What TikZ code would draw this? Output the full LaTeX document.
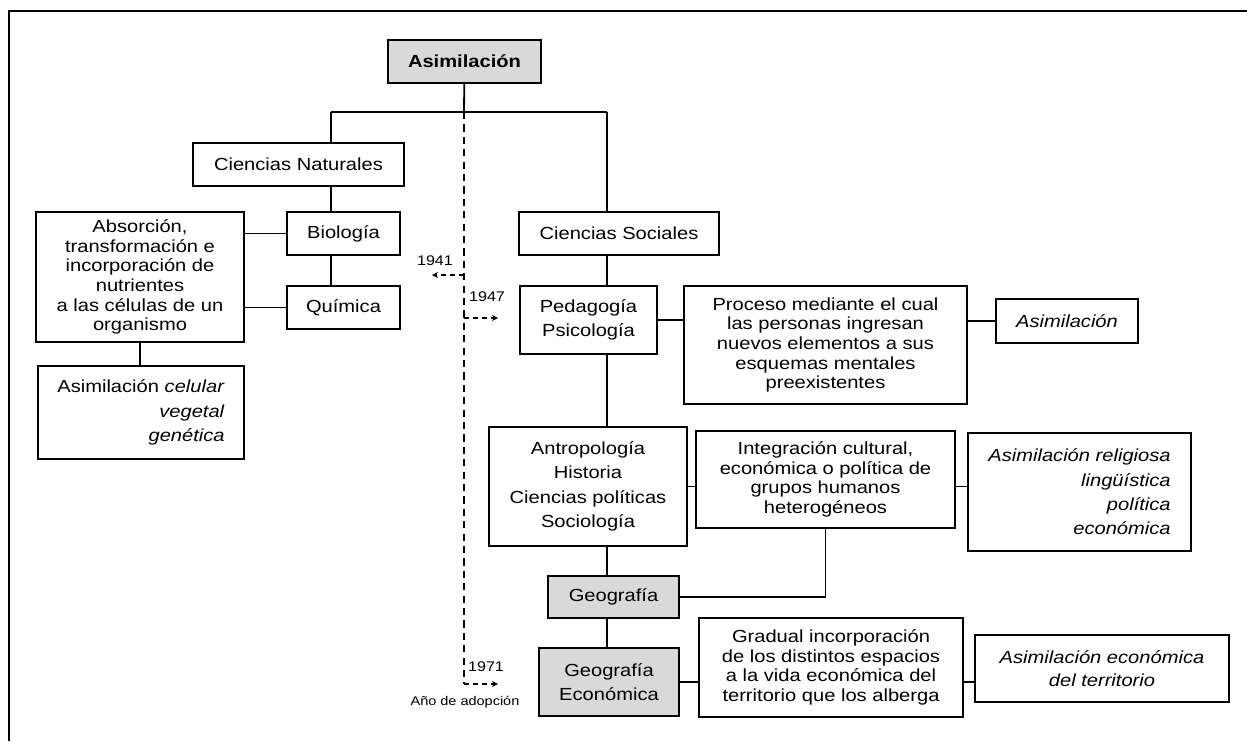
\documentclass[tikz,border=0pt]{standalone}
\usepackage{fontspec}
\setmainfont{Liberation Sans}[FakeStretch=1.15]
\usepackage{tikz}
\usetikzlibrary{arrows.meta,calc}
\definecolor{boxgray}{RGB}{217,217,217}

\begin{document}
\begin{tikzpicture}[x=0.5pt, y=-0.5pt,
	every node/.style={font=\fontsize{8.75}{9.8}\selectfont},
	box/.style={draw, line width=1pt, align=center, inner sep=0pt},
	grey/.style={box, fill=boxgray},
	loose/.style={font=\fontsize{8.75}{12.2}\selectfont},
	link/.style={line width=0.9pt},
	timeline/.style={line width=0.6pt, dash pattern=on 3.6pt off 2.6pt},
	year/.style={line width=0.6pt, dash pattern=on 2.5pt off 2pt, -{Stealth[length=3pt, width=3pt]}},
	small/.style={font=\fontsize{7}{8}\selectfont, inner sep=0pt}]
	\useasboundingbox (0, 0) rectangle (1247, 741);
	\draw [line width=1pt] (1247, 11) -- (9, 11) -- (9, 741);

	\node [grey, minimum width=76.5pt, minimum height=21.5pt, font=\bfseries\fontsize{8.75}{9.8}\selectfont] (0) at (464.5, 61.5) {Asimilación};
	\node [box, minimum width=105.5pt, minimum height=21.5pt] (1) at (298.5, 164.5) {Ciencias Naturales};
	\node [box, minimum width=56.5pt, minimum height=21.5pt] (2) at (343.5, 233.5) {Biología};
	\node [box, minimum width=56.5pt, minimum height=21.5pt] (3) at (343.5, 307.5) {Química};
	\node [box, minimum width=104pt, minimum height=65pt] (4) at (140, 277) {Absorción,\\transformación e\\incorporación de\\nutrientes\\a las células de un\\organismo};
	\node [box, loose, align=right, minimum width=103pt, minimum height=46.5pt] (5) at (141, 412.5) {Asimilación \textit{celular}\\\textit{vegetal}\\\textit{genética}};
	\node [box, minimum width=100pt, minimum height=21.5pt] (6) at (619, 233.5) {Ciencias Sociales};
	\node [box, loose, minimum width=68.5pt, minimum height=34pt] (7) at (588.5, 320) {Pedagogía\\Psicología};
	\node [box, minimum width=141.5pt, minimum height=59pt] (8) at (825.5, 345) {Proceso mediante el cual\\las personas ingresan\\nuevos elementos a sus\\esquemas mentales\\preexistentes};
	\node [box, minimum width=71pt, minimum height=22pt] (9) at (1067, 321) {\textit{Asimilación}};
	\node [box, loose, minimum width=99pt, minimum height=59.5pt] (10) at (588, 486.5) {Antropología\\Historia\\Ciencias políticas\\Sociología};
	\node [box, minimum width=129.5pt, minimum height=48.5pt] (11) at (825.5, 479.5) {Integración cultural,\\económica o política de\\grupos humanos\\heterogéneos};
	\node [box, loose, align=right, minimum width=111.5pt, minimum height=59pt] (12) at (1079.5, 492) {\textit{Asimilación religiosa}\\\textit{lingüística}\\\textit{política}\\\textit{económica}};
	\node [grey, minimum width=65.5pt, minimum height=21pt] (13) at (613.5, 597) {Geografía};
	\node [grey, loose, minimum width=70pt, minimum height=34pt] (14) at (609, 682) {Geografía\\Económica};
	\node [box, minimum width=132pt, minimum height=49.5pt] (15) at (831, 667.5) {Gradual incorporación\\de los distintos espacios\\a la vida económica del\\territorio que los alberga};
	\node [box, font=\fontsize{8.75}{11.5}\selectfont, minimum width=127pt, minimum height=33.5pt] (16) at (1102, 668.5) {\textit{Asimilación económica}\\\textit{del territorio}};

	\node [small] (y1) at (435, 261) {1941};
	\node [small] (y2) at (487, 297) {1947};
	\node [small] (y3) at (486, 667) {1971};
	\node [small, font=\fontsize{6.3}{7}\selectfont] (yl) at (465, 702) {Año de adopción};

	\coordinate (j) at (464, 112);
	\coordinate (jl) at (331, 112);
	\coordinate (jr) at (607, 112);
	\coordinate (t1) at (464, 275);
	\coordinate (t2) at (464, 318);
	\coordinate (t3) at (464, 684);
	\coordinate (a1) at (432, 275);
	\coordinate (a2) at (498, 318);
	\coordinate (a3) at (498, 684);

	\draw [link] (0) -- (j);
	\draw [link] (jl) -- (jr);
	\draw [link] (jl) -- (jl |- 1.north);
	\draw [link] (jr) -- (jr |- 6.north);
	\draw [link] (jl |- 1.south) -- (jl |- 2.north);
	\draw [link] (jl |- 2.south) -- (jl |- 3.north);
	\draw [link] (2.west) -- (2.west -| 4.east);
	\draw [link] (3.west) -- (3.west -| 4.east);
	\draw [link] (4.south) -- (4.south |- 5.north);
	\draw [link] (jr |- 6.south) -- (jr |- 7.north);
	\draw [link] (7.east) -- (7.east -| 8.west);
	\draw [link] (9.west) -- (9.west -| 8.east);
	\draw [link] (jr |- 7.south) -- (jr |- 10.north);
	\draw [link] (10.east) -- (10.east -| 11.west);
	\draw [link] (10.east -| 11.east) -- (10.east -| 12.west);
	\draw [link] (jr |- 10.south) -- (jr |- 13.north);
	\draw [link] (13.east) -| (11.south);
	\draw [link] (jr |- 13.south) -- (jr |- 14.north);
	\draw [link] (14.east) -- (14.east -| 15.west);
	\draw [link] (14.east -| 15.east) -- (14.east -| 16.west);

	\draw [timeline] (j) -- (t3);
	\draw [year] (t1) -- (a1);
	\draw [year] (t2) -- (a2);
	\draw [year] (t3) -- (a3);
\end{tikzpicture}
\end{document}
